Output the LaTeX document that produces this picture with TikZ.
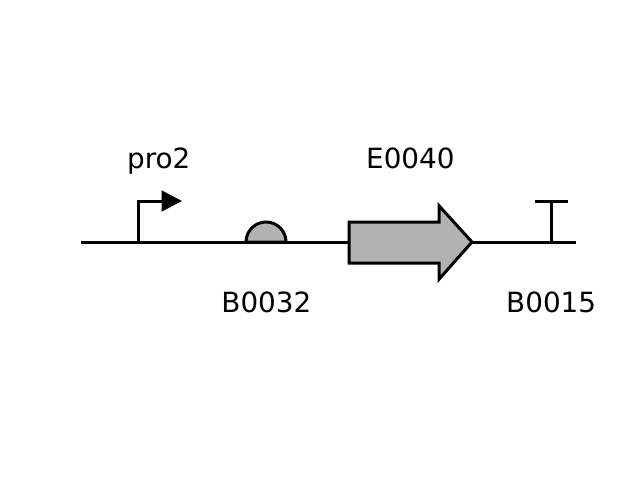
\documentclass[tikz,border=0pt]{standalone}
\usepackage{fontspec}
\setmainfont{DejaVu Sans}
\tikzset{
	strand/.style={line width=0.075cm, color=black},
	part/.style={line width=0.075cm, color=black, fill=black!30, line join=miter},
	partlabel/.style={anchor=base, inner sep=0pt, font=\fontsize{19.8pt}{24pt}\selectfont}
}
\begin{document}
\begin{tikzpicture}
		%%%%% START %%%%%
		\useasboundingbox (0, 0) rectangle (16, 12);
		
		\coordinate (start) at (2.025, 5.95);
		\coordinate (finish) at (14.4, 5.95);
		\coordinate (cdsleft) at (8.725, 5.95);
		\coordinate (cdstip) at (11.8, 5.95);
		
		% backbone
		\draw[strand] (start) -- (cdsleft);
		\draw[strand] (cdstip) -- (finish);
		
		% promoter
		\coordinate (probase) at (3.45, 5.95);
		\coordinate (proelbow) at (3.45, 6.975);
		\coordinate (prohead) at (4.05, 6.975);
		\draw[strand] (probase) -- (proelbow) -- (prohead);
		\draw[fill=black, line width=0.02cm] (4.05, 7.225) -- (4.525, 6.975) -- (4.05, 6.725) -- cycle;
		
		% rbs
		\draw[part] (6.15, 5.95) arc (180:0:0.5) -- cycle;
		
		% cds
		\draw[part] (8.725, 6.45) -- (10.98, 6.45) -- (10.98, 6.85) -- (cdstip) -- (10.98, 5.025) -- (10.98, 5.425) -- (8.725, 5.425) -- cycle;
		
		% terminator
		\coordinate (termbase) at (13.775, 5.95);
		\coordinate (termtop) at (13.775, 6.975);
		\coordinate (barleft) at (13.375, 6.975);
		\coordinate (barright) at (14.2, 6.975);
		\draw[strand] (termbase) -- (termtop);
		\draw[strand] (barleft) -- (barright);
		
		\node[partlabel] (pro2) at (3.97, 7.8) {pro2};
		\node[partlabel] (E0040) at (10.26, 7.8) {E0040};
		\node[partlabel] (B0032) at (6.66, 4.2) {B0032};
		\node[partlabel] (B0015) at (13.78, 4.2) {B0015};
		%%%%% END %%%%%
	\end{tikzpicture}
\end{document}
